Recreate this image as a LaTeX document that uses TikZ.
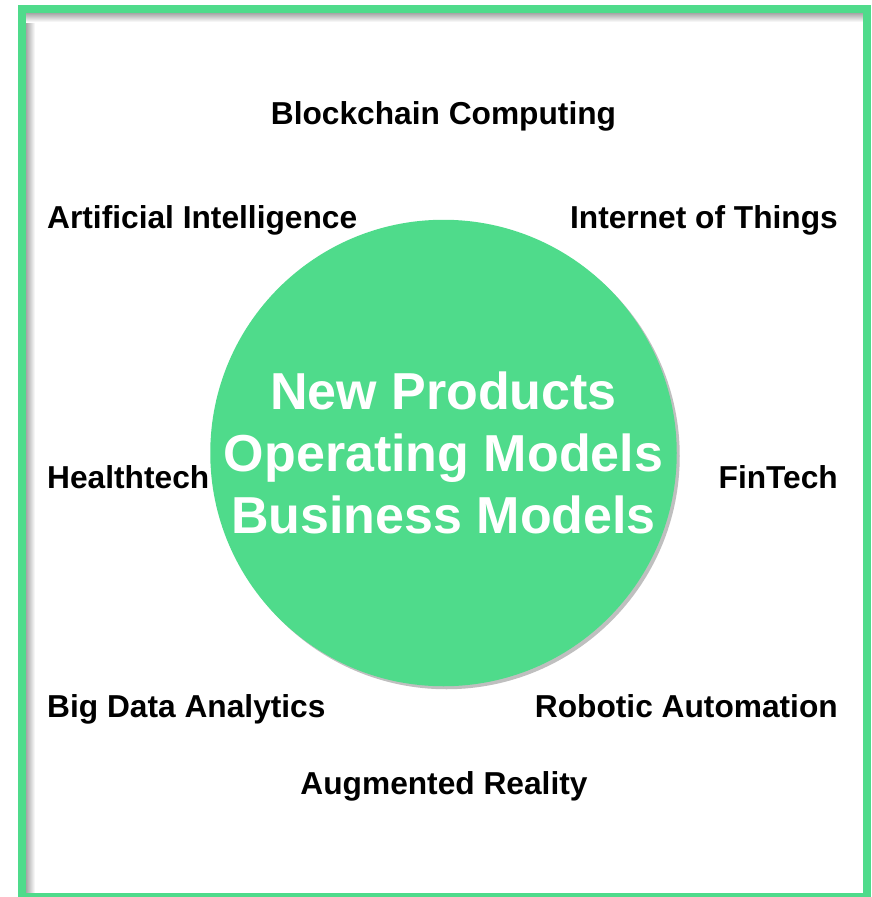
\documentclass[tikz,border=0pt]{standalone}
\usepackage{fontspec}
\setmainfont{Liberation Sans}
\usetikzlibrary{shadows,positioning}
\definecolor{mint}{HTML}{4FDB8B}

\begin{document}
\begin{tikzpicture}[x=1pt,y=-1pt,
  tech/.style={inner sep=0pt,font=\fontsize{31.7}{37}\selectfont\bfseries},
  hub/.style={circle,fill=mint,minimum size=458pt,inner sep=0pt,text=white,
    align=center,font=\fontsize{52}{62}\selectfont\bfseries,
    drop shadow={shadow xshift=3pt,shadow yshift=-3pt,fill=black,opacity=0.25}}]
\useasboundingbox (0,0) rectangle (871,897);

% frame with its inner shadow
\shade[left color=gray!70,right color=white] (26,13) rectangle (35,893);
\shade[top color=gray!70,bottom color=white] (26,13) rectangle (863,22);
\draw[mint,line width=8pt] (22,9) rectangle (867,897);

% centre
\node[hub] (core) at (443.5,453) {New Products\\Operating Models\\Business Models};

% technologies
\node[tech,anchor=base] (chain) at (443.5,124) {Blockchain Computing};
\node[tech,anchor=base west] (ai) at (47,228) {Artificial Intelligence};
\node[tech,anchor=base east] (iot) at (838,228) {Internet of Things};
\node[tech,anchor=base west] (health) at (47,488) {Healthtech};
\node[tech,anchor=base east] (fin) at (838,488) {FinTech};
\node[tech,anchor=base west] (data) at (47,717) {Big Data Analytics};
\node[tech,anchor=base east] (robot) at (838,717) {Robotic Automation};
\node[tech,anchor=base] (ar) at (444,794) {Augmented Reality};
\end{tikzpicture}
\end{document}
